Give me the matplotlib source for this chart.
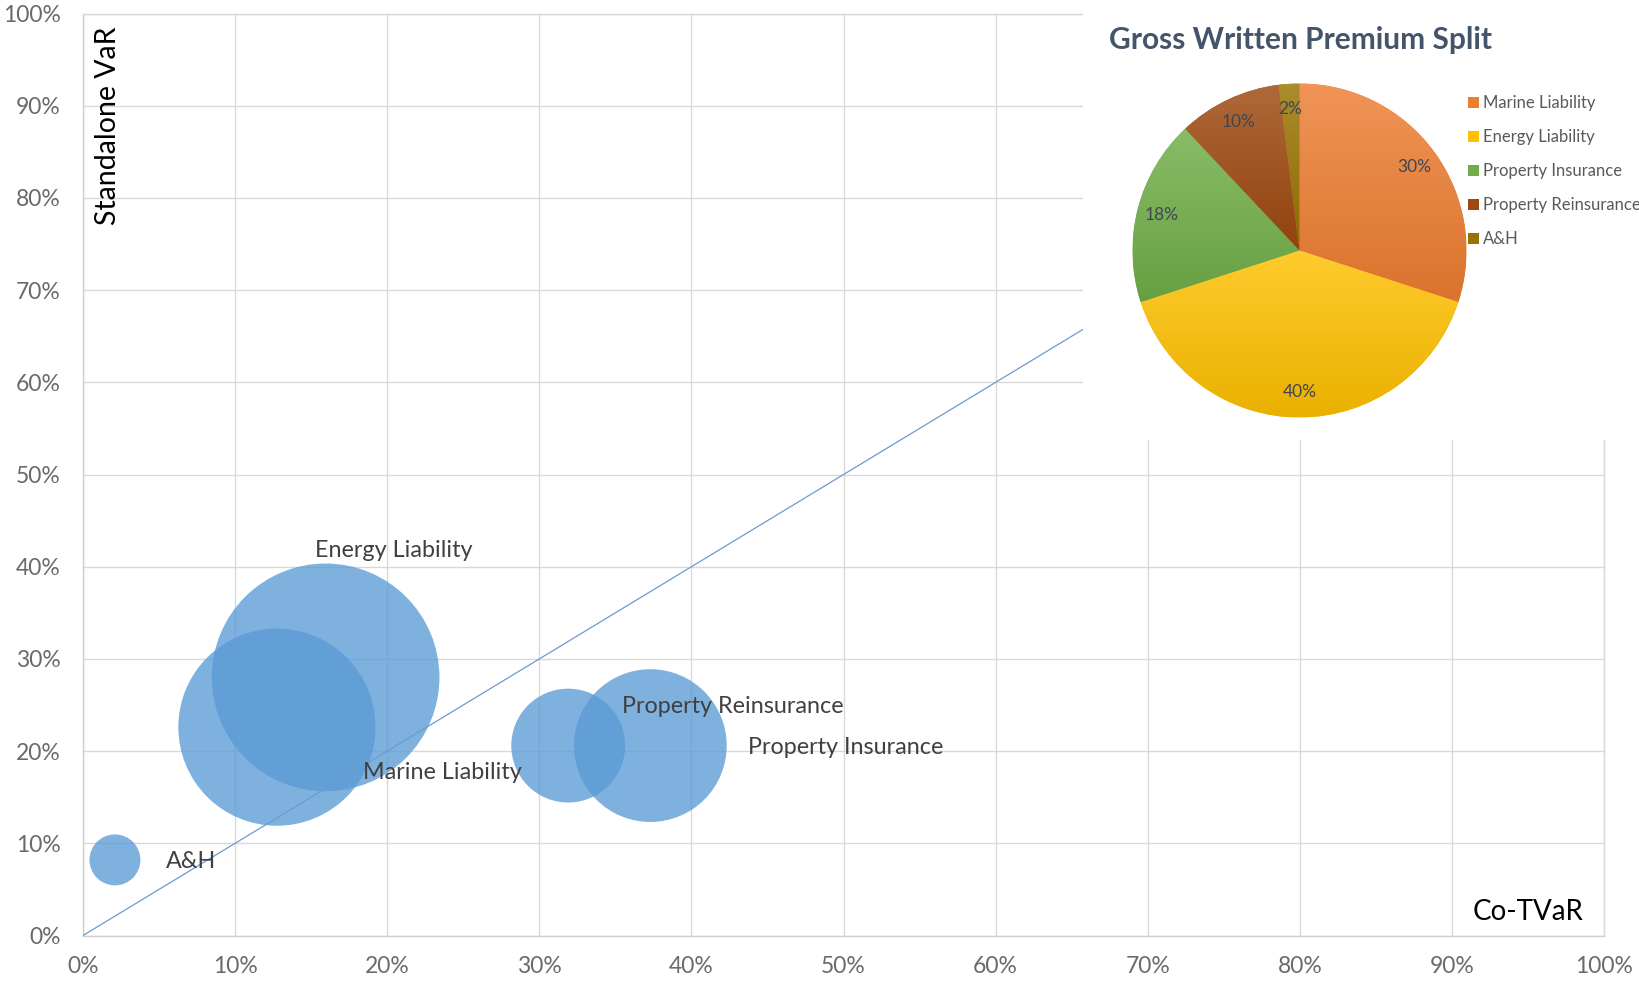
import numpy as np
import matplotlib.pyplot as plt
from matplotlib.ticker import MultipleLocator, PercentFormatter
from matplotlib.colors import to_rgb

plt.rcParams['font.family'] = ['Lato', 'DejaVu Sans']

# bubble chart data
lines = ["Marine Liability", "Energy Liability", "Property Insurance", "Property Reinsurance", "A&H"]
co_tvar = [0.1275, 0.1595, 0.373, 0.319, 0.021]
standalone_var = [0.226, 0.280, 0.206, 0.206, 0.082]
gwp_split = [30, 40, 18, 10, 2]  # also the bubble sizes

# label offsets (points) and alignment per bubble
label_offsets = [(62, -32.5), (49, 91.5), (70, -1.5), (39, 28.5), (37, -1.5)]
label_ha = ["left", "center", "left", "left", "left"]

pie_colors = ["#ED7D31", "#FFC000", "#70AD47", "#9E480E", "#997300"]

W, H = 1639, 981
fig = plt.figure(figsize=(W / 100, H / 100), dpi=100)

def fig_rect(x0, y0, x1, y1):
    # pixel box (top-left origin) -> figure fraction rect
    return [x0 / W, 1 - y1 / H, (x1 - x0) / W, (y1 - y0) / H]

ax = fig.add_axes(fig_rect(83, 13.6, 1604, 935.5))
grid_c = "#D9D9D9"
ax.set_xlim(0, 1)
ax.set_ylim(0, 1)
ax.xaxis.set_major_locator(MultipleLocator(0.1))
ax.yaxis.set_major_locator(MultipleLocator(0.1))
ax.xaxis.set_major_formatter(PercentFormatter(1.0, decimals=0))
ax.yaxis.set_major_formatter(PercentFormatter(1.0, decimals=0))
ax.grid(True, color=grid_c, lw=1.0)
ax.set_axisbelow(True)
for s in ax.spines.values():
    s.set_color(grid_c)
    s.set_linewidth(1.0)
ax.spines["left"].set_color("#CFCFCF")
ax.spines["bottom"].set_color("#CFCFCF")
ax.tick_params(length=0, labelsize=16.5, labelcolor="#6A6A6A")
ax.tick_params(axis="y", pad=16)
ax.tick_params(axis="x", pad=15)

ax.plot([0, 1], [0, 1], color="#6A9BD1", lw=0.9, zorder=3)

bubble_scale = 672
ax.scatter(co_tvar, standalone_var, s=np.array(gwp_split) * bubble_scale,
           color="#5B9BD5", alpha=0.78, edgecolors="none", zorder=2)

for name, x, y, off, ha in zip(lines, co_tvar, standalone_var, label_offsets, label_ha):
    ax.annotate(name, (x, y), xytext=off, textcoords="offset points",
                ha=ha, va="center", fontsize=16.8, color="#404040", zorder=4)

ax.text(0.0166, 0.9857, "Standalone VaR", rotation=90, ha="center", va="top",
        fontsize=20.5, color="black", transform=ax.transAxes)
ax.text(0.950, 0.026, "Co-TVaR", ha="center", va="center",
        fontsize=20, color="black", transform=ax.transAxes)

# white box holding the pie
box = fig.add_axes(fig_rect(1083, 0, 1639, 440), zorder=2)
box.set_facecolor("white")
box.set_xticks([])
box.set_yticks([])
for s in box.spines.values():
    s.set_visible(False)

fig.text(1109 / W, 1 - 40.5 / H, "Gross Written Premium Split", ha="left", va="center",
         fontsize=21.5, fontweight="bold", color="#44546A", zorder=5)

pax = fig.add_axes(fig_rect(1132.5, 83.5, 1466.5, 417.5), zorder=3)
pax.patch.set_visible(False)
wedges, _, autotexts = pax.pie(gwp_split, colors=pie_colors, startangle=90, counterclock=False,
                               radius=1, autopct="%1.0f%%", pctdistance=0.85,
                               textprops=dict(color="#3F4653", fontsize=12.5))
for w, c in zip(wedges, pie_colors):
    rgb = np.array(to_rgb(c))
    top = rgb + (1 - rgb) * 0.18
    bottom = rgb * 0.92
    t = np.linspace(0, 1, 200)[:, None, None]
    grad = top * (1 - t) + bottom * t
    ext = w.get_path().get_extents()
    im = pax.imshow(grad, extent=[ext.x0, ext.x1, ext.y0, ext.y1], origin="upper",
                    aspect="auto", zorder=w.get_zorder() + 0.1)
    im.set_clip_path(w)
for t in autotexts:
    t.set_zorder(5)
pax.set_xlim(-1, 1)
pax.set_ylim(-1, 1)
pax.set_aspect("equal")
pax.axis("off")

leg = pax.legend(wedges, lines, loc="upper left",
                 bbox_to_anchor=(1468 / W, 1 - 95 / H), bbox_transform=fig.transFigure,
                 frameon=False, fontsize=12, labelcolor="#595959",
                 handlelength=0.65, handleheight=0.65, handletextpad=0.25,
                 labelspacing=1.08, borderpad=0, borderaxespad=0)

fig.savefig("out.png", dpi=100)
